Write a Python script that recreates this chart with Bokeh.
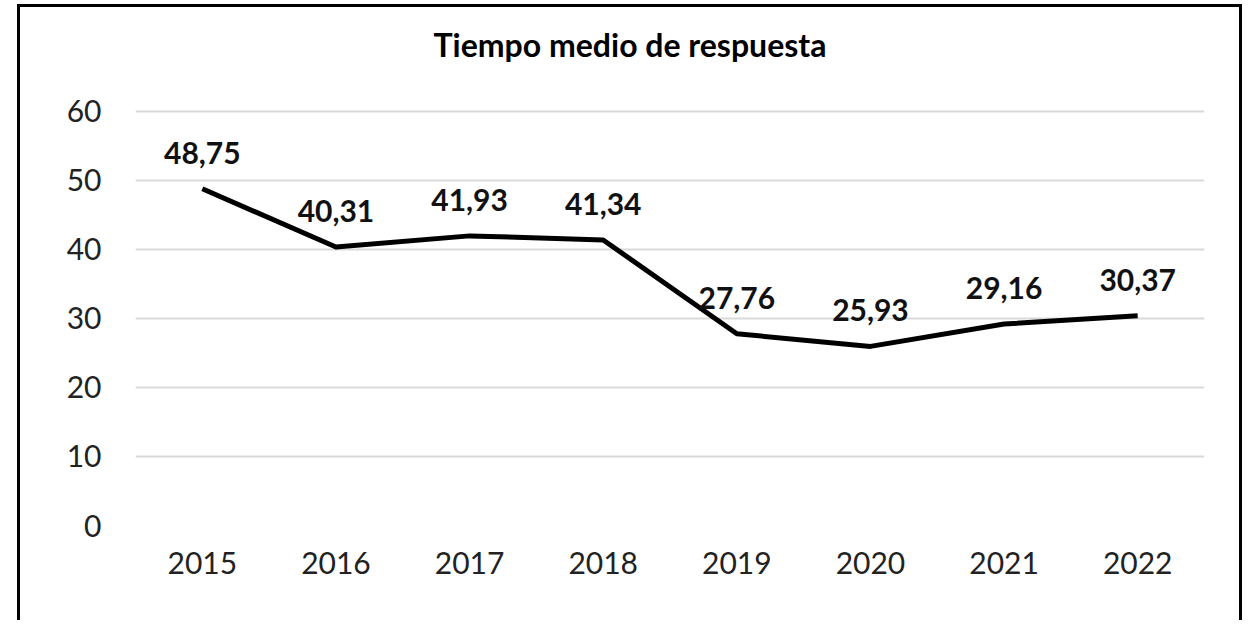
from bokeh.plotting import figure
from bokeh.models import FactorRange, Range1d, ColumnDataSource, FixedTicker, Label
from bokeh.core.properties import value
from bokeh.embed import file_html
from bokeh.resources import INLINE

title_text = "Tiempo medio de respuesta"
years = ["2015", "2016", "2017", "2018", "2019", "2020", "2021", "2022"]
values = [48.75, 40.31, 41.93, 41.34, 27.76, 25.93, 29.16, 30.37]
labels = ["48,75", "40,31", "41,93", "41,34", "27,76", "25,93", "29,16", "30,37"]
y_ticks = [0, 10, 20, 30, 40, 50, 60]

src = ColumnDataSource(dict(x=years, y=values, lab=labels))

# the frame reaches up to the top so the title can sit inside it;
# only the ticks 0..60 get gridlines
p = figure(width=1219, height=613,
           x_range=FactorRange(*years, range_padding=0),
           y_range=Range1d(0, 74.27),
           output_backend="svg", toolbar_location=None,
           min_border_left=115, min_border_right=41,
           min_border_top=5, min_border_bottom=98)
p.styles = {"box-sizing": "content-box",
            "border-top": "3px solid black", "border-left": "3px solid black",
            "border-right": "3px solid black", "border-bottom": "none",
            "position": "relative", "left": "17px", "top": "4px"}

p.outline_line_color = None
p.background_fill_color = "white"
p.border_fill_color = "white"

p.xgrid.grid_line_color = None
p.ygrid.grid_line_color = "#d9d9d9"
p.ygrid.grid_line_width = 2

p.yaxis.ticker = FixedTicker(ticks=y_ticks)
for ax in (p.xaxis[0], p.yaxis[0]):
    ax.axis_line_color = None
    ax.major_tick_line_color = None
    ax.minor_tick_line_color = None
    ax.major_label_text_font = "Lato"
    ax.major_label_text_font_size = "30px"
    ax.major_label_text_color = "#222222"
p.yaxis.major_label_standoff = 28
p.xaxis.major_label_standoff = 20

p.line("x", "y", source=src, line_color="black", line_width=5, line_join="round")
p.text("x", "y", text="lab", source=src, text_align="center", text_baseline="middle",
       y_offset=-36, text_font=value("Lato"), text_font_style="bold",
       text_font_size="30px", text_color="#111111")

title = Label(x=len(years) / 2, y=y_ticks[-1], x_units="data", y_units="data",
              text=title_text, text_align="center", text_baseline="middle",
              x_offset=-40, y_offset=67, text_font="Lato", text_font_style="bold",
              text_font_size="32px", text_color="#000000")
p.add_layout(title)

open("out.html", "w").write(file_html(p, INLINE))
